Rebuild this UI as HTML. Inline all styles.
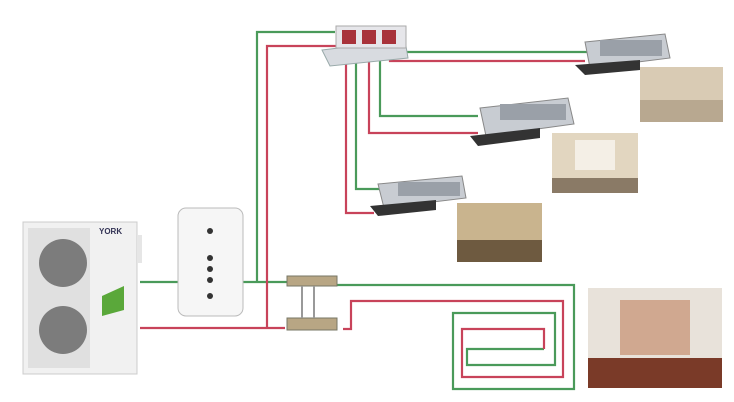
<!DOCTYPE html>
<html><head><meta charset="utf-8"><style>
html,body{margin:0;padding:0;background:#fff;width:734px;height:402px;overflow:hidden}
</style></head><body>
<svg width="734" height="402" viewBox="0 0 734 402" xmlns="http://www.w3.org/2000/svg" font-family="Liberation Sans, sans-serif">
<rect width="734" height="402" fill="#fff"/>
<g fill="none" stroke-width="2.2">
<!-- green lines -->
<polyline stroke="#4a9a5a" points="140,282 290,282"/>
<polyline stroke="#4a9a5a" points="257,282 257,32 335,32"/>
<polyline stroke="#4a9a5a" points="399,48 399,52 590,52"/>
<polyline stroke="#4a9a5a" points="380,58 380,116 478,116"/>
<polyline stroke="#4a9a5a" points="356,60 356,189 380,189"/>
<polyline stroke="#4a9a5a" points="333,285 574,285 574,389 453,389 453,313 555,313 555,365 467,365 467,349 544,349"/>
<!-- red lines -->
<polyline stroke="#c8435a" points="140,328 285,328"/>
<polyline stroke="#c8435a" points="267,328 267,46 337,46"/>
<polyline stroke="#c8435a" points="390,52 390,61 585,61"/>
<polyline stroke="#c8435a" points="369,58 369,133 478,133"/>
<polyline stroke="#c8435a" points="346,60 346,213 374,213"/>
<polyline stroke="#c8435a" points="343,329 351,329 351,301 563,301 563,377 462,377 462,329 544,329 544,349"/>
</g>
<!-- distributor -->
<polygon points="322,50 405,40 408,58 330,66" fill="#d8dbe0" stroke="#9aa" />
<rect x="336" y="26" width="70" height="22" fill="#e6e6ea" stroke="#aaa"/>
<rect x="342" y="30" width="14" height="14" fill="#a8323a"/><rect x="362" y="30" width="14" height="14" fill="#a8323a"/><rect x="382" y="30" width="14" height="14" fill="#a8323a"/>
<!-- FCUs -->
<g>
<polygon points="585,42 665,34 670,58 590,68" fill="#c8ccd2" stroke="#888"/>
<rect x="600" y="40" width="62" height="16" fill="#9aa0a8"/>
<polygon points="575,65 640,60 640,70 585,75" fill="#333"/>
<polygon points="480,108 568,98 574,124 486,136" fill="#c8ccd2" stroke="#888"/>
<rect x="500" y="104" width="66" height="16" fill="#9aa0a8"/>
<polygon points="470,136 540,128 540,138 478,146" fill="#333"/>
<polygon points="378,184 462,176 466,198 384,208" fill="#c8ccd2" stroke="#888"/>
<rect x="398" y="182" width="62" height="14" fill="#9aa0a8"/>
<polygon points="370,206 436,200 436,210 378,216" fill="#333"/>
</g>
<!-- room photos -->
<rect x="640" y="67" width="83" height="55" fill="#d9cbb4"/><rect x="640" y="100" width="83" height="22" fill="#b8a890"/>
<rect x="552" y="133" width="86" height="60" fill="#e2d6c0"/><rect x="575" y="140" width="40" height="30" fill="#f4efe6"/><rect x="552" y="178" width="86" height="15" fill="#8a7a66"/>
<rect x="457" y="203" width="85" height="59" fill="#c9b48e"/><rect x="457" y="240" width="85" height="22" fill="#6e5a40"/>
<rect x="588" y="288" width="134" height="100" fill="#e8e2da"/><rect x="620" y="300" width="70" height="55" fill="#d0a890"/><rect x="588" y="358" width="134" height="30" fill="#7a3a28"/>
<!-- outdoor unit -->
<rect x="23" y="222" width="114" height="152" fill="#f1f1f1" stroke="#ccc"/>
<rect x="28" y="228" width="62" height="140" fill="#e0e0e0"/>
<circle cx="63" cy="263" r="24" fill="#7c7c7c"/><circle cx="63" cy="330" r="24" fill="#7c7c7c"/>
<text x="99" y="234" font-size="8" font-weight="bold" fill="#335">YORK</text>
<polygon points="102,296 124,286 124,310 102,316" fill="#5aa83a"/>
<rect x="137" y="235" width="5" height="28" fill="#e6e6e6"/>
<!-- tank -->
<rect x="178" y="208" width="65" height="108" rx="8" fill="#f6f6f6" stroke="#bbb"/>
<circle cx="210" cy="231" r="3" fill="#333"/><circle cx="210" cy="258" r="3" fill="#333"/><circle cx="210" cy="269" r="3" fill="#333"/><circle cx="210" cy="280" r="3" fill="#333"/><circle cx="210" cy="296" r="3" fill="#333"/>
<!-- manifolds -->
<rect x="287" y="276" width="50" height="10" fill="#b8a684" stroke="#776"/>
<rect x="287" y="318" width="50" height="12" fill="#b8a684" stroke="#776"/>
<line x1="302" y1="286" x2="302" y2="318" stroke="#999" stroke-width="2"/><line x1="314" y1="286" x2="314" y2="318" stroke="#999" stroke-width="2"/>
</svg>
</body></html>
